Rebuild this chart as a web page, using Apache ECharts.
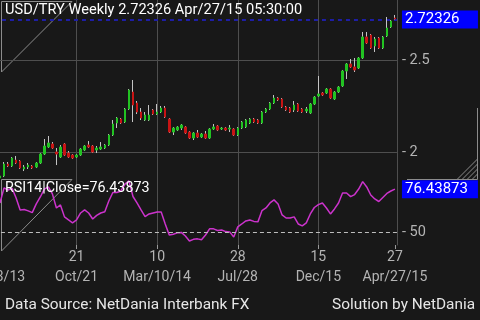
<!DOCTYPE html>
<html><head><meta charset="utf-8">
<script src="https://cdn.jsdelivr.net/npm/echarts@6/dist/echarts.min.js"></script>
<style>html,body{margin:0;padding:0;background:#181818;}#c{width:480px;height:320px;}</style>
</head><body><div id="c"></div>
<script>
// weekly candles, index 0 = Jun/3/13 ... index 99 = Apr/27/15
const openP = [
 null,1.8587,1.8696,1.9348,1.9239,1.9565,1.9511,1.9076,1.9185,1.9239,
 1.9185,1.9402,1.9891,2.0272,2.0435,2.0000,1.9728,2.0435,1.9946,1.9837,
 1.9728,1.9837,2.0109,2.0380,2.0326,2.0109,2.0163,2.0217,2.0380,2.0924,
 2.1576,2.1793,2.1630,2.2337,2.3261,2.2663,2.2174,2.1739,2.1739,2.2283,
 2.2065,2.2174,2.2391,2.1793,2.1087,2.1196,2.1304,2.1359,2.1087,2.0761,
 2.1033,2.0815,2.0978,2.0761,2.1250,2.1413,2.1250,2.1304,2.1250,2.1250,
 2.0924,2.1304,2.1359,2.1576,2.1793,2.1739,2.1576,2.2174,2.2337,2.2663,
 2.2935,2.2880,2.2446,2.2391,2.2283,2.2609,2.2337,2.2228,2.2120,2.2609,
 2.3043,2.3207,2.3207,2.3424,2.2880,2.3261,2.3587,2.4402,2.4783,2.4620,
 2.4565,2.5109,2.6250,2.6359,2.5761,2.6196,2.5652,2.6304,2.6794,2.7283];
const closeP = [
 null,1.8696,1.9348,1.9239,1.9674,1.9402,1.9130,1.9185,1.9293,1.9130,
 1.9402,1.9891,2.0326,2.0489,2.0217,1.9891,2.0272,1.9837,1.9728,1.9674,
 1.9837,2.0163,2.0326,2.0272,2.0000,2.0217,2.0272,2.0380,2.0924,2.1522,
 2.1848,2.1576,2.2337,2.3370,2.2554,2.2174,2.1848,2.2011,2.2011,2.2065,
 2.2174,2.2391,2.1902,2.1087,2.1304,2.1359,2.1467,2.1033,2.0761,2.1033,
 2.0815,2.0978,2.0761,2.1250,2.1359,2.1196,2.1304,2.1196,2.1304,2.0924,
 2.1304,2.1630,2.1739,2.1793,2.1630,2.1576,2.2174,2.2337,2.2663,2.2935,
 2.2826,2.2446,2.2283,2.2174,2.2554,2.2228,2.2174,2.2337,2.2609,2.2989,
 2.3152,2.3098,2.3424,2.2935,2.3261,2.3533,2.4402,2.4783,2.4620,2.4457,
 2.5109,2.6250,2.5924,2.5652,2.6141,2.5652,2.6250,2.6739,2.7120,2.72326];
const lowP = [
 null,1.8530,1.8641,1.9185,1.9185,1.9348,1.9076,1.8967,1.9076,1.9076,
 1.9130,1.9348,1.9837,2.0217,2.0163,1.9293,1.9674,1.9783,1.9674,1.9620,
 1.9674,1.9783,2.0054,2.0217,1.9946,1.9946,2.0109,2.0163,2.0326,2.0870,
 2.1304,2.1522,2.1576,2.2283,2.1630,2.2065,2.1739,2.1685,2.1685,2.2011,
 2.2011,2.2120,2.1848,2.1033,2.0924,2.1141,2.1196,2.0978,2.0707,2.0652,
 2.0761,2.0761,2.0707,2.0707,2.1196,2.1141,2.1196,2.1141,2.1087,2.0870,
 2.0870,2.1250,2.1304,2.1522,2.1576,2.1522,2.1522,2.2120,2.2283,2.2609,
 2.2772,2.2391,2.2228,2.2120,2.2174,2.2174,2.2120,2.2120,2.2065,2.2554,
 2.2989,2.3043,2.3152,2.2880,2.2826,2.3207,2.3533,2.3967,2.4565,2.4348,
 2.4511,2.5054,2.5869,2.5598,2.5435,2.5598,2.5598,2.6250,2.6739,2.7200];
const highP = [
 null,1.8750,1.9457,1.9457,1.9728,1.9783,1.9565,1.9293,1.9402,1.9293,
 1.9457,1.9946,2.0707,2.0870,2.0543,2.0217,2.0380,2.0489,2.0054,1.9891,
 1.9891,2.0217,2.0380,2.0598,2.0380,2.0326,2.0543,2.0435,2.0978,2.1739,
 2.1902,2.1848,2.2391,2.3424,2.3913,2.2772,2.2391,2.2174,2.2554,2.2337,
 2.2609,2.2500,2.2500,2.1848,2.1359,2.1413,2.1522,2.1413,2.1141,2.1087,
 2.1196,2.1033,2.1141,2.1304,2.1522,2.1467,2.1359,2.1359,2.1467,2.1304,
 2.1359,2.1685,2.1793,2.1848,2.1848,2.1793,2.2228,2.2391,2.2717,2.3098,
 2.2989,2.2935,2.2500,2.2446,2.2772,2.2663,2.2391,2.2446,2.2663,2.3043,
 2.4130,2.3261,2.3478,2.3478,2.3315,2.3587,2.4457,2.4837,2.5054,2.5109,
 2.5163,2.6522,2.6522,2.6413,2.6250,2.6250,2.6304,2.7337,2.7174,2.7446];
const rsi14 = [
 null,67.9,77.2,75.9,76.9,71.0,63.6,63.9,63.0,61.9,
 67.3,71.6,76.5,77.8,73.5,64.8,66.7,59.3,57.4,55.6,
 57.4,61.7,63.6,61.7,58.0,60.2,61.7,62.5,69.1,74.4,
 74.4,75.3,79.6,81.5,71.9,67.9,63.6,59.4,61.1,61.7,
 62.3,62.3,54.9,48.1,48.5,49.4,49.7,47.5,44.4,45.4,
 45.7,45.1,48.1,51.9,51.9,50.9,51.2,50.2,50.0,46.9,
 53.1,54.9,56.8,57.4,56.5,56.2,63.1,64.8,67.9,69.8,
 67.3,60.5,58.6,58.6,59.3,54.9,53.7,55.6,61.1,65.1,
 66.9,67.9,64.8,61.1,64.2,67.9,74.1,74.1,71.8,73.1,
 76.5,81.1,77.8,72.8,70.4,68.8,71.3,73.8,75.3,76.43873];
const tickIndex = [0, 20, 40, 60, 80, 99];
const tickDay = ['3', '21', '10', '28', '15', '27'];
const tickDate = ['Jun/3/13', 'Oct/21', 'Mar/10/14', 'Jul/28', 'Dec/15', 'Apr/27/15'];
const priceTicks = [2, 2.5];
const rsiTicks = [50];
const lastPrice = 2.72326;
const lastRsi = 76.43873;
const titleText = 'USD/TRY Weekly ' + lastPrice + ' Apr/27/15 05:30:00';

// category dates (weekly from Jun 3 2013)
const weeks = [];
for (let i = 0; i < openP.length; i++) {
  const d = new Date(Date.UTC(2013, 5, 3 + 7 * i));
  weeks.push(d.toISOString().slice(0, 10));
}

const wickData = openP.map((o, i) => o == null ? '-' : [o, closeP[i], lowP[i], highP[i]]);
const bodyData = openP.map((o, i) => o == null ? '-' : [o, closeP[i], Math.min(o, closeP[i]), Math.max(o, closeP[i])]);

const FONT = 'Roboto';
const GRIDC = '#4e4e4e';
const showTick = (i) => tickIndex.indexOf(i) >= 0;
const showSplit = (i) => tickIndex.indexOf(i) >= 0 && i !== tickIndex[tickIndex.length - 1];

const boxLabel = (txt) => ({show: true, position: 'end', distance: 5, formatter: () => txt,
  color: '#ffffff', backgroundColor: '#0000ff', fontSize: 15, fontFamily: FONT,
  padding: [2, 3, 1, 3], width: 70});

const chart = echarts.init(document.getElementById('c'), null, {renderer: 'canvas'});
const deco = {stroke: '#8c8c8c', fill: null, lineWidth: 1};
const txt = (size, color) => ({color: color, fontSize: size, fontWeight: 'normal', fontFamily: FONT});
chart.setOption({
  backgroundColor: '#181818',
  animation: false,
  textStyle: {fontFamily: FONT},
  title: [
    {text: titleText, left: 5, top: 3, padding: 0, textStyle: txt(14.6, '#ffffff')},
    {text: 'RSI14|Close=' + lastRsi, left: 5, top: 181, padding: 0, textStyle: txt(14.3, '#ffffff')},
    {text: 'Data Source: NetDania Interbank FX', left: 5, top: 298, padding: 0, textStyle: txt(15.4, '#e6e6e6')},
    {text: 'Solution by NetDania', right: 5, top: 298, padding: 0, textStyle: txt(15.4, '#e6e6e6')}
  ],
  grid: [
    {left: -6.05, width: 403, top: 0, height: 180, outerBoundsMode: 'none'},
    {left: -6.05, width: 403, top: 180, height: 65, outerBoundsMode: 'none'}
  ],
  xAxis: [
    {type: 'category', gridIndex: 0, data: weeks, boundaryGap: true,
     axisLine: {show: false}, axisTick: {show: false}, axisLabel: {show: false},
     splitLine: {show: true, interval: showSplit, alignWithLabel: true, lineStyle: {color: GRIDC, width: 1}}},
    {type: 'category', gridIndex: 1, data: weeks, boundaryGap: true,
     axisLine: {show: false},
     axisTick: {show: true, interval: showTick, alignWithLabel: true, length: 4, lineStyle: {color: '#9a9a9a'}},
     axisLabel: {show: true, interval: showTick, margin: 2, color: '#b4b4b4', fontSize: 14, lineHeight: 20, fontFamily: FONT,
       formatter: (v, i) => { const k = tickIndex.indexOf(i); return k < 0 ? '' : tickDay[k] + '\n' + tickDate[k]; }},
     splitLine: {show: true, interval: showSplit, alignWithLabel: true, lineStyle: {color: GRIDC, width: 1}}}
  ],
  yAxis: [
    {type: 'value', gridIndex: 0, position: 'right', min: 1.848, max: 2.826, scale: true,
     splitLine: {show: false}, axisTick: {show: false},
     axisLine: {show: true, lineStyle: {color: GRIDC}},
     axisLabel: {customValues: priceTicks, margin: 5, color: '#b4b4b4', fontSize: 14.5, fontFamily: FONT, formatter: (v) => '- ' + v}},
    {type: 'value', gridIndex: 1, position: 'right', min: 41.9, max: 82.1, scale: true,
     splitLine: {show: false}, axisTick: {show: false},
     axisLine: {show: true, lineStyle: {color: GRIDC}},
     axisLabel: {customValues: rsiTicks, margin: 5, color: '#b4b4b4', fontSize: 14.5, fontFamily: FONT, formatter: (v) => '- ' + v}}
  ],
  series: [
    {type: 'candlestick', name: 'wick', xAxisIndex: 0, yAxisIndex: 0, data: wickData, barWidth: 1,
     itemStyle: {color: '#c4c4c4', color0: '#c4c4c4', borderColor: '#c4c4c4', borderColor0: '#c4c4c4', borderWidth: 1},
     markLine: {silent: true, symbol: ['none', 'none'], z: 1, animation: false,
       label: {show: false},
       lineStyle: {color: GRIDC, type: 'solid', width: 1},
       data: priceTicks.map(v => ({yAxis: v})).concat([
         {yAxis: lastPrice, lineStyle: {color: '#1e1ea6', type: [4, 4], width: 2}, label: boxLabel(lastPrice.toFixed(5))}
       ])}},
    {type: 'candlestick', name: 'body', xAxisIndex: 0, yAxisIndex: 0, data: bodyData, barWidth: 2,
     itemStyle: {color: '#22c322', color0: '#c81414', borderColor: '#22c322', borderColor0: '#c81414', borderWidth: 1}},
    {type: 'line', name: 'RSI', xAxisIndex: 1, yAxisIndex: 1, data: rsi14, showSymbol: false, connectNulls: false,
     lineStyle: {color: '#cc33cc', width: 1.5},
     markLine: {silent: true, symbol: ['none', 'none'], animation: false,
       data: [
         {yAxis: rsiTicks[0], lineStyle: {color: '#bdbdbd', type: [4, 3], width: 1}, label: {show: false}},
         {yAxis: lastRsi, lineStyle: {color: 'rgba(0,0,0,0)', width: 1}, label: boxLabel(lastRsi.toFixed(5))}
       ]}}
  ],
  graphic: [
    {type: 'polyline', silent: true, shape: {points: [[1.5, 72], [1.5, 1.5], [72, 1.5], [1.5, 72]]}, style: deco},
    {type: 'polyline', silent: true, shape: {points: [[1.5, 251], [1.5, 179.5], [72, 179.5], [1.5, 251]]}, style: deco},
    {type: 'polyline', silent: true, shape: {points: [[477.5, 108], [477.5, 179.5], [407, 179.5]]}, style: deco},
    {type: 'line', silent: true, shape: {x1: 457, y1: 179.5, x2: 477.5, y2: 159}, style: deco},
    {type: 'line', silent: true, shape: {x1: 462, y1: 179.5, x2: 477.5, y2: 164}, style: deco},
    {type: 'line', silent: true, shape: {x1: 467, y1: 179.5, x2: 477.5, y2: 169}, style: deco},
    {type: 'line', silent: true, shape: {x1: 472, y1: 179.5, x2: 477.5, y2: 174}, style: deco}
  ]
});
</script>
</body></html>
